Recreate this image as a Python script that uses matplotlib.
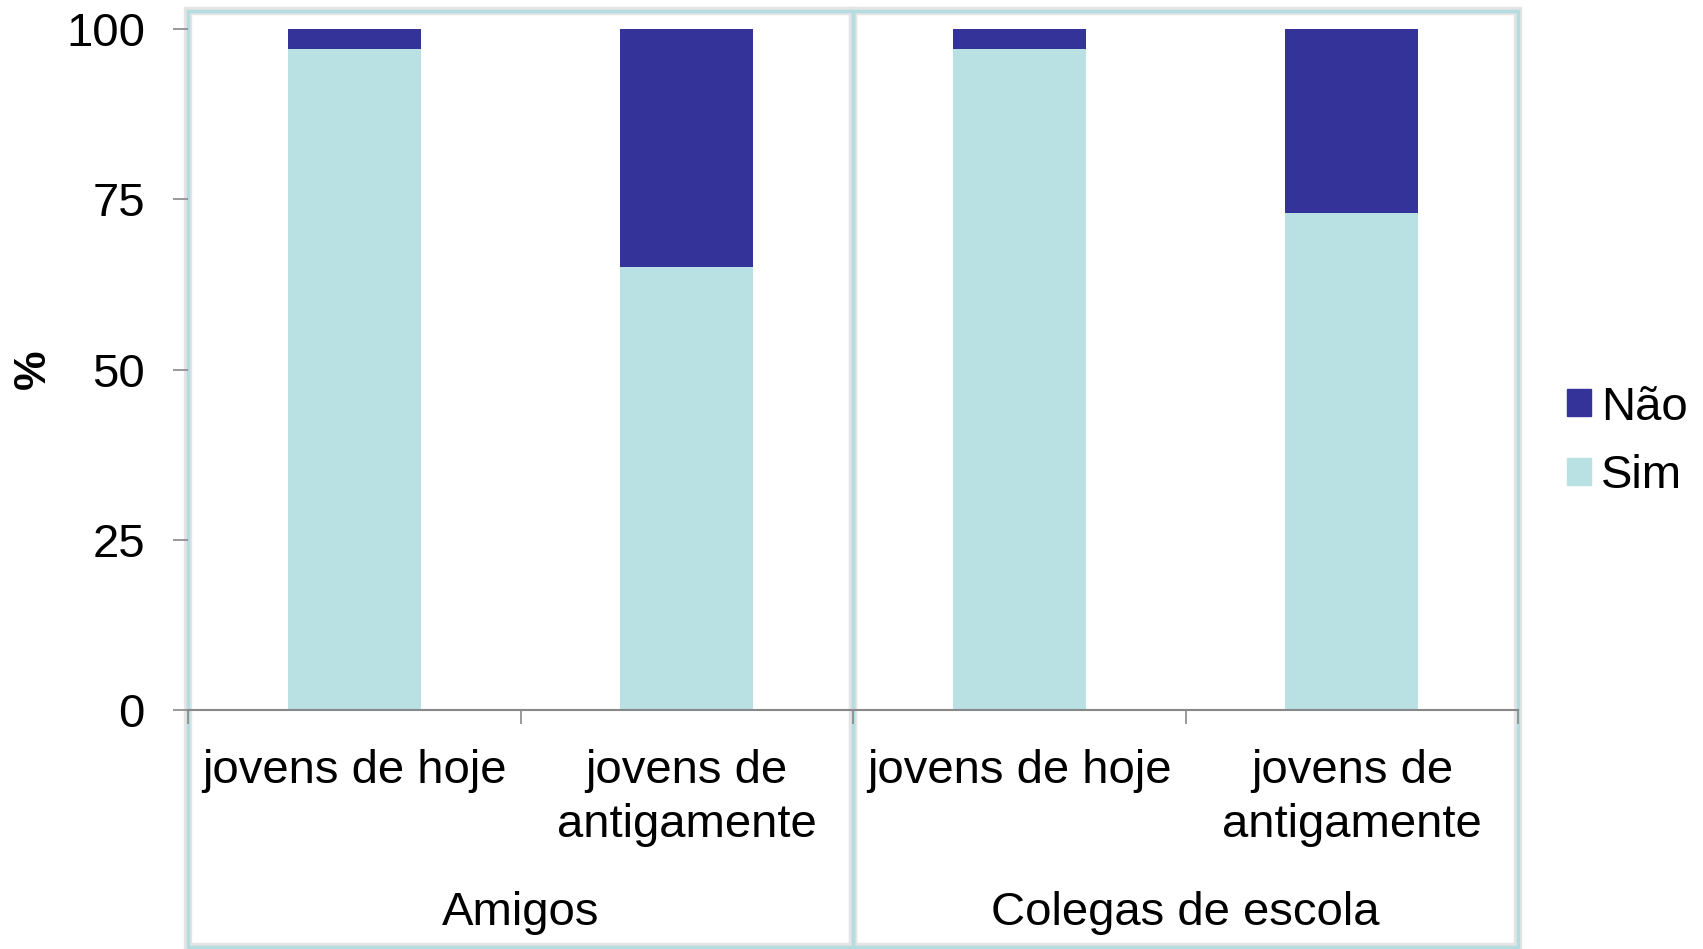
import matplotlib
matplotlib.use("Agg")
import matplotlib.pyplot as plt
import matplotlib.transforms as mtransforms
from matplotlib.patches import Rectangle, Patch

plt.rcParams["font.family"] = ["Liberation Sans", "DejaVu Sans"]

# data
groups = ["Amigos", "Colegas de escola"]
categories = ["jovens de hoje", "jovens de\nantigamente",
              "jovens de hoje", "jovens de\nantigamente"]
sim = [97, 65, 97, 73]
nao = [3, 35, 3, 27]

COLOR_NAO = "#333399"
COLOR_SIM = "#b9e0e3"
BOX = "#b5dce0"

W, H = 1703, 949
fig = plt.figure(figsize=(W / 100, H / 100), dpi=100)
left, right, top, bottom = 188, 1518, 29, 710
ax = fig.add_axes([left / W, (H - bottom) / H, (right - left) / W, (bottom - top) / H])

x = [i + 0.5 for i in range(len(sim))]
ax.bar(x, sim, width=0.4, color=COLOR_SIM, zorder=2)
ax.bar(x, nao, width=0.4, bottom=sim, color=COLOR_NAO, zorder=2)

ax.set_xlim(0, 4)
ax.set_ylim(0, 100)
ax.set_yticks([0, 25, 50, 75, 100])
ax.set_xticks([0, 1, 2, 3, 4])
ax.set_xticklabels([])
for s in ["top", "right", "left"]:
    ax.spines[s].set_visible(False)
ax.spines["bottom"].set_color("#888888")
ax.spines["bottom"].set_linewidth(1.5)
ax.tick_params(axis="y", direction="out", length=11, width=1.2, color="#888888",
               labelsize=34, pad=20)
ax.tick_params(axis="x", direction="out", length=10, width=1.2, color="#888888")
ax.set_ylabel("%", fontsize=32, fontweight="bold", va="center")
ax.yaxis.set_label_coords((33 - left) / (right - left), 0.5)

# panel boxes
trans = mtransforms.blended_transform_factory(ax.transData, ax.transAxes)
ax_h = bottom - top
y_box_top = (bottom - 11) / ax_h
y_box_bot = (bottom - 947) / ax_h
for i, g in enumerate(groups):
    x0 = 2 * i
    shadow = Rectangle((x0, y_box_bot), 2, y_box_top - y_box_bot, transform=trans,
                       fill=False, edgecolor="#e4e4e4", linewidth=6, clip_on=False, zorder=0)
    ax.add_patch(shadow)
    r = Rectangle((x0, y_box_bot), 2, y_box_top - y_box_bot, transform=trans,
                  fill=False, edgecolor=BOX, linewidth=2.5, clip_on=False, zorder=1)
    ax.add_patch(r)
    ax.text(x0 + 1, (bottom - 913) / ax_h, g, transform=trans, ha="center", va="center",
            fontsize=34)

for xi, lab in zip(x, categories):
    ax.text(xi, (bottom - 749) / ax_h, lab, transform=trans, ha="center", va="top",
            fontsize=34, linespacing=1.28)

handles = [Patch(color=COLOR_NAO, label="Não"), Patch(color=COLOR_SIM, label="Sim")]
fig.legend(handles=handles, loc="center left", bbox_to_anchor=(1567 / W, 1 - 442 / H),
           frameon=False, fontsize=34, handlelength=0.5, handleheight=0.5,
           handletextpad=0.22, labelspacing=0.52, borderaxespad=0, borderpad=0)

fig.savefig("out.png", dpi=100)
